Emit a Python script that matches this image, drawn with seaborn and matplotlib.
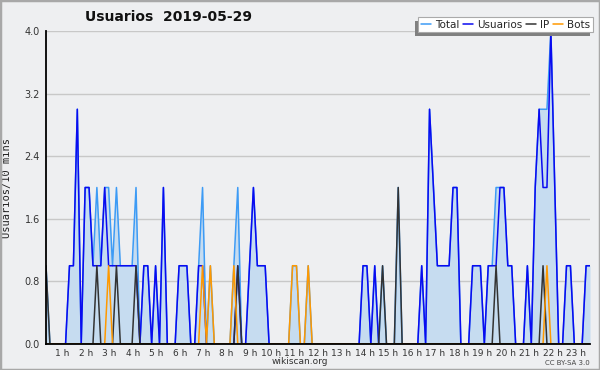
import numpy as np
import pandas as pd
import matplotlib
matplotlib.use("Agg")
import matplotlib.pyplot as plt
import seaborn as sns
from matplotlib.patches import Rectangle
from matplotlib.transforms import IdentityTransform

# ---- data: users per 10-minute slot, 00:00 .. 23:10 ----
title = "Usuarios  2019-05-29"
series_names = ["Total", "Usuarios", "IP", "Bots"]
hour_labels = [f"{h} h" for h in range(1, 24)]

usuarios = [0, 0, 0, 0, 0, 0, 1, 1, 3, 0,
            2, 2, 1, 1, 1, 2, 1, 1, 1, 1,
            1, 1, 1, 1, 0, 1, 1, 0, 1, 0,
            2, 0, 0, 0, 1, 1, 1, 0, 0, 1,
            1, 0, 0, 0, 0, 0, 0, 0, 0, 1,
            0, 0, 1, 2, 1, 1, 1, 0, 0, 0,
            0, 0, 0, 0, 0, 0, 0, 0, 0, 0,
            0, 0, 0, 0, 0, 0, 0, 0, 0, 0,
            0, 1, 1, 0, 1, 0, 0, 0, 0, 0,
            0, 0, 0, 0, 0, 0, 1, 0, 3, 2,
            1, 1, 1, 1, 2, 2, 0, 0, 0, 1,
            1, 1, 0, 1, 1, 1, 2, 2, 1, 1,
            0, 0, 0, 1, 0, 2, 3, 2, 2, 4,
            2, 0, 0, 1, 1, 0, 0, 0, 1, 1]

ip = [1, 0, 0, 0, 0, 0, 0, 0, 0, 0,
      0, 0, 0, 1, 0, 0, 0, 0, 1, 0,
      0, 0, 0, 1, 0, 0, 0, 0, 0, 0,
      0, 0, 0, 0, 0, 0, 0, 0, 0, 0,
      0, 0, 0, 0, 0, 0, 0, 0, 0, 1,
      0, 0, 0, 0, 0, 0, 0, 0, 0, 0,
      0, 0, 0, 0, 0, 0, 0, 0, 0, 0,
      0, 0, 0, 0, 0, 0, 0, 0, 0, 0,
      0, 0, 0, 0, 0, 0, 1, 0, 0, 0,
      2, 0, 0, 0, 0, 0, 0, 0, 0, 0,
      0, 0, 0, 0, 0, 0, 0, 0, 0, 0,
      0, 0, 0, 0, 0, 1, 0, 0, 0, 0,
      0, 0, 0, 0, 0, 0, 0, 1, 0, 0,
      0, 0, 0, 0, 0, 0, 0, 0, 0, 0]

bots = [0, 0, 0, 0, 0, 0, 0, 0, 0, 0,
        0, 0, 0, 0, 0, 0, 1, 0, 0, 0,
        0, 0, 0, 0, 0, 0, 0, 0, 0, 0,
        0, 0, 0, 0, 0, 0, 0, 0, 0, 0,
        1, 0, 1, 0, 0, 0, 0, 0, 1, 0,
        0, 0, 0, 0, 0, 0, 0, 0, 0, 0,
        0, 0, 0, 1, 1, 0, 0, 1, 0, 0,
        0, 0, 0, 0, 0, 0, 0, 0, 0, 0,
        0, 0, 0, 0, 0, 0, 0, 0, 0, 0,
        0, 0, 0, 0, 0, 0, 0, 0, 0, 0,
        0, 0, 0, 0, 0, 0, 0, 0, 0, 0,
        0, 0, 0, 0, 0, 0, 0, 0, 0, 0,
        0, 0, 0, 0, 0, 0, 0, 0, 1, 0,
        0, 0, 0, 0, 0, 0, 0, 0, 0, 0]

total = [1, 0, 0, 0, 0, 0, 1, 1, 3, 0,
         2, 2, 1, 2, 1, 2, 2, 1, 2, 1,
         1, 1, 1, 2, 0, 1, 1, 0, 1, 0,
         2, 0, 0, 0, 1, 1, 1, 0, 0, 1,
         2, 0, 1, 0, 0, 0, 0, 0, 1, 2,
         0, 0, 1, 2, 1, 1, 1, 0, 0, 0,
         0, 0, 0, 1, 1, 0, 0, 1, 0, 0,
         0, 0, 0, 0, 0, 0, 0, 0, 0, 0,
         0, 1, 1, 0, 1, 0, 1, 0, 0, 0,
         2, 0, 0, 0, 0, 0, 1, 0, 3, 2,
         1, 1, 1, 1, 2, 2, 0, 0, 0, 1,
         1, 1, 0, 1, 1, 2, 2, 2, 1, 1,
         0, 0, 0, 1, 0, 2, 3, 3, 3, 4,
         2, 0, 0, 1, 1, 0, 0, 0, 1, 1]

colors = {"Total": "#3d9bf5", "Usuarios": "#0a0af0", "IP": "#333333", "Bots": "#ff9900"}
BG = "#eeeff1"

df = pd.DataFrame({"hora": np.arange(len(total)) / 6.0,
                   "Total": total, "Usuarios": usuarios, "IP": ip, "Bots": bots})

# ---- figure ----
sns.set_style("white")
plt.rcParams["font.family"] = ["DejaVu Sans"]

W, H = 600, 370
fig = plt.figure(figsize=(W / 100, H / 100), dpi=100, facecolor=BG)
ax = fig.add_axes([46 / W, 26 / H, 544 / W, 313 / H])
ax.set_facecolor(BG)

ax.fill_between(df["hora"], df["Total"], color="#c6dcf0", lw=0, zorder=1)
for i, name in enumerate(series_names):
    sns.lineplot(data=df, x="hora", y=name, ax=ax, color=colors[name],
                 lw=1.1, label=name, zorder=2 + i)

ax.set_xlim(0, df["hora"].iloc[-1])
ax.set_ylim(0, 4.0)

# axes cosmetics
for s in ["top", "right"]:
    ax.spines[s].set_visible(False)
for s in ["left", "bottom"]:
    ax.spines[s].set_color("black")
    ax.spines[s].set_linewidth(1.3)
    ax.spines[s].set_zorder(10)

yt = np.arange(0, 4.01, 0.8)
ax.set_yticks(yt)
ax.set_yticklabels([f"{v:.1f}" for v in yt])
ax.set_yticks(np.arange(0, 4.01, 0.2), minor=True)
ax.set_xticks(range(1, 24))
ax.set_xticklabels(hour_labels)
ax.set_xticks(df["hora"], minor=True)
for lab in ax.get_xticklabels():
    lab.set_ha("right")

ax.tick_params(which="both", direction="out", length=3, width=0.8,
               color="black", labelsize=7, labelcolor="#333333", pad=1.5)
ax.tick_params(axis="x", which="major", pad=0.5, labelsize=6.5)

ax.yaxis.grid(True, color="#c8c8c8", lw=1.0)
ax.xaxis.grid(False)
ax.set_axisbelow(True)

ax.set_xlabel("")
ax.set_ylabel("Usuarios/10 mins", family="DejaVu Sans Mono", fontsize=7.5, color="#222222")
ax.yaxis.set_label_coords(-(46 - 12) / 544, 0.5)

# legend with offset shadow
handles, labels = ax.get_legend_handles_labels()
leg = ax.legend(handles, labels, loc="upper right",
                bbox_to_anchor=(593 / W, 1 - 17 / H), bbox_transform=fig.transFigure,
                ncol=4, frameon=True, fancybox=False, edgecolor="#aaaaaa",
                facecolor="white", framealpha=1, fontsize=7.5,
                handlelength=1.0, handletextpad=0.4, columnspacing=0.3,
                borderpad=0.25, borderaxespad=0)
leg.get_frame().set_linewidth(0.8)
leg.set_zorder(20)

fig.canvas.draw()
bb = leg.get_window_extent()
shadow = Rectangle((bb.x0 - 3, bb.y0 - 4), bb.width, bb.height,
                   transform=IdentityTransform(), facecolor="#808080",
                   edgecolor="none", zorder=19, clip_on=False)
ax.add_artist(shadow)

# texts around
fig.text(85 / W, 1 - 17 / H, title, fontsize=10, fontweight="bold",
         ha="left", va="center", color="#111111")
fig.text(0.5, 1 - 362 / H, "wikiscan.org", fontsize=6.5, ha="center",
         va="center", color="#333333")
fig.text(590 / W, 1 - 363 / H, "CC BY-SA 3.0", fontsize=5, ha="right",
         va="center", color="#444444")

fig.patches.append(Rectangle((0, 0), 1, 1, transform=fig.transFigure, fill=False,
                             edgecolor="#a8a8a8", lw=2.5))

fig.savefig("out.png", dpi=100, facecolor=BG)
